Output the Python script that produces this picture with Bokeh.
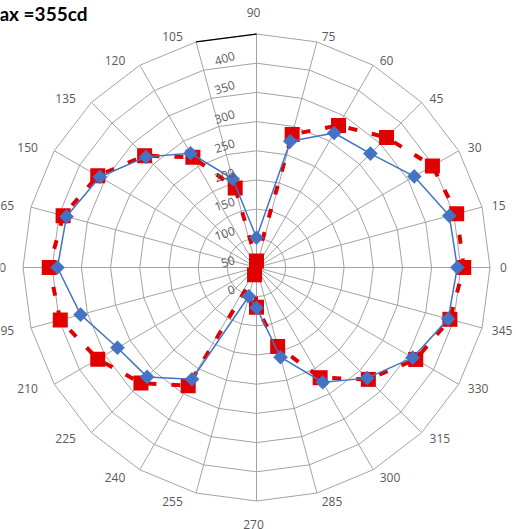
import math
from bokeh.plotting import figure
from bokeh.models import Range1d
from bokeh.embed import file_html
from bokeh.resources import INLINE
from bokeh.core.properties import value

# ---------------- data ----------------
angles = [0, 15, 30, 45, 60, 75, 90, 105, 120, 135, 150, 165,
          180, 195, 210, 225, 240, 255, 270, 285, 300, 315, 330, 345]
cat_labels = ["0", "15", "30", "45", "60", "75", "90", "105", "120", "135", "150", "165",
              "180", "195", "210", "225", "240", "255", "270", "285", "300", "315", "330", "345"]
red_vals = [355, 355, 348, 315, 281, 236, 11, 141, 218, 271, 314, 343,
            355, 348, 314, 280, 234, 13, 68, 140, 218, 271, 315, 343]
blue_vals = [344, 342, 312, 276, 266, 224, 51, 157, 226, 268, 310, 337,
             341, 312, 275, 265, 221, 51, 69, 159, 227, 268, 309, 340]
radial_ticks = [0, 50, 100, 150, 200, 250, 300, 350, 400]
radial_labels = ["0", "50", "100", "150", "200", "250", "300", "350", "400"]
title_text = "Max =355cd"

# ---------------- layout ----------------
W, H = 516, 529
CX, CY = 256, 267          # centre in picture pixels
RPX = 233.5                # pixel radius of outer ring
RMAX = radial_ticks[-1]
K = RPX / RMAX             # pixels per data unit


def u(px):
    return px / K


p = figure(width=W, height=H, output_backend="svg", toolbar_location=None,
           x_range=Range1d(u(-CX), u(W - CX)), y_range=Range1d(u(-(H - CY)), u(CY)),
           min_border=0, outline_line_color=None, background_fill_color="white",
           border_fill_color="white")
p.axis.visible = False
p.grid.visible = False

rad = [math.radians(a) for a in angles]
cosv = [math.cos(t) for t in rad]
sinv = [math.sin(t) for t in rad]

# grid rings (polygons)
ring_xs, ring_ys = [], []
for r in radial_ticks[1:]:
    ring_xs.append([r * c for c in cosv] + [r * cosv[0]])
    ring_ys.append([r * s for s in sinv] + [r * sinv[0]])
p.multi_line(ring_xs, ring_ys, line_color="#A3A3A3", line_width=1)

# spokes
sp_xs = [[0, RMAX * c] for c in cosv]
sp_ys = [[0, RMAX * s] for s in sinv]
p.multi_line(sp_xs, sp_ys, line_color="#A3A3A3", line_width=1)

# black axis segment on outer ring between 105 and 90
i90, i105 = angles.index(90), angles.index(105)
p.line([RMAX * cosv[i105], RMAX * cosv[i90]], [RMAX * sinv[i105], RMAX * sinv[i90]],
       line_color="black", line_width=1.3)

# red series
rx = [v * c for v, c in zip(red_vals, cosv)]
ry = [v * s for v, s in zip(red_vals, sinv)]
p.line(rx + [rx[0]], ry + [ry[0]], line_color="#E00000", line_width=4, line_dash="9 15")
p.scatter(rx, ry, marker="square", size=15, fill_color="#E00000", line_color="#E00000", line_width=0)

# blue series
bx = [v * c for v, c in zip(blue_vals, cosv)]
by = [v * s for v, s in zip(blue_vals, sinv)]
p.line(bx + [bx[0]], by + [by[0]], line_color="#4472C4", line_width=1.5)
p.scatter(bx, by, marker="square", angle=math.pi / 4, size=10, fill_color="#4472C4",
          line_color="#4472C4", line_width=0.5)

# category labels
groups = {"left": ([], [], []), "right": ([], [], []), "center": ([], [], [])}
for lab, c, s in zip(cat_labels, cosv, sinv):
    vx, vy = RPX * c, RPX * s
    if c > 0.1:
        align = "left"
        x = vx + 3 + 7 * c
    elif c < -0.1:
        align = "right"
        x = vx - (12 + 5 * abs(c))
    else:
        align = "center"
        x = vx - 3
    if abs(c) <= 0.1:
        y = vy + (21.5 if s > 0 else -23.5)
    else:
        y = vy + (6 * s if s > 0 else 8.5 * s)
    g = groups[align]
    g[0].append(u(x)); g[1].append(u(y)); g[2].append(lab)
for align, (xs, ys, ts) in groups.items():
    p.text(xs, ys, text=ts, text_align=align, text_baseline="middle",
           text_font=value("Open Sans"), text_font_size="12px", text_color="#595959")

# radial labels (rotated)
rl_x = [u(234 - CX) for _ in radial_ticks]
rl_y = [r - u(21) for r in radial_ticks]
p.text(rl_x, rl_y, text=radial_labels, angle=math.radians(18), text_align="right",
       text_baseline="middle", text_font=value("Open Sans"), text_font_size="12px",
       text_color="#595959")

# title (cropped at left, as in the reference)
p.text([u(87 - CX)], [u(CY - 13)], text=[title_text], text_align="right", text_baseline="middle",
       text_font=value("Lato"), text_font_style="bold", text_font_size="19px", text_color="black")

open("out.html", "w").write(file_html(p, INLINE))
